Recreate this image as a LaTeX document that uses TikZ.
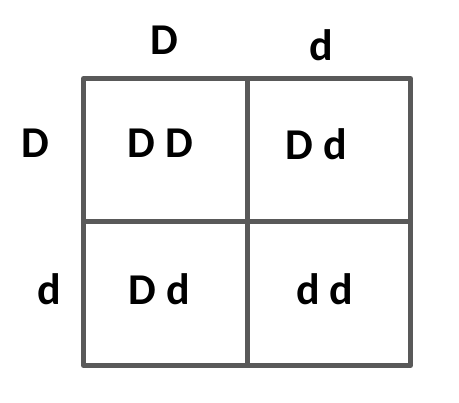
\documentclass[tikz,border=0pt]{standalone}
\usepackage{fontspec}
\setmainfont{Carlito}
\usepackage{tikz}

\begin{document}
\begin{tikzpicture}[x=1pt, y=-1pt,
    allele/.style = {anchor=base, inner sep=0pt, font=\fontsize{44}{52}\selectfont\bfseries},
    grid/.style = {draw=black!65, line width=5pt, line join=round}]
    \useasboundingbox (0,0) rectangle (459,403);

    % Grid
    \coordinate (nw) at (83.5, 78.5);
    \coordinate (se) at (410.5, 365.5);
    \draw[grid] (nw) rectangle (se);
    \draw[grid] (247.5, 78.5) -- (247.5, 365.5);
    \draw[grid] (83.5, 221.5) -- (410.5, 221.5);

    % Parents
    \node[allele] (top1) at (164.5, 55) {D};
    \node[allele] (top2) at (321, 61) {d};
    \node[allele] (left1) at (35.5, 158) {D};
    \node[allele] (left2) at (49, 305) {d};

    % Offspring
    \node[allele] (c11) at (160.5, 158) {D D};
    \node[allele] (c12) at (316, 160) {D d};
    \node[allele] (c21) at (159, 305) {D d};
    \node[allele] (c22) at (325, 305) {d d};

\end{tikzpicture}
\end{document}
